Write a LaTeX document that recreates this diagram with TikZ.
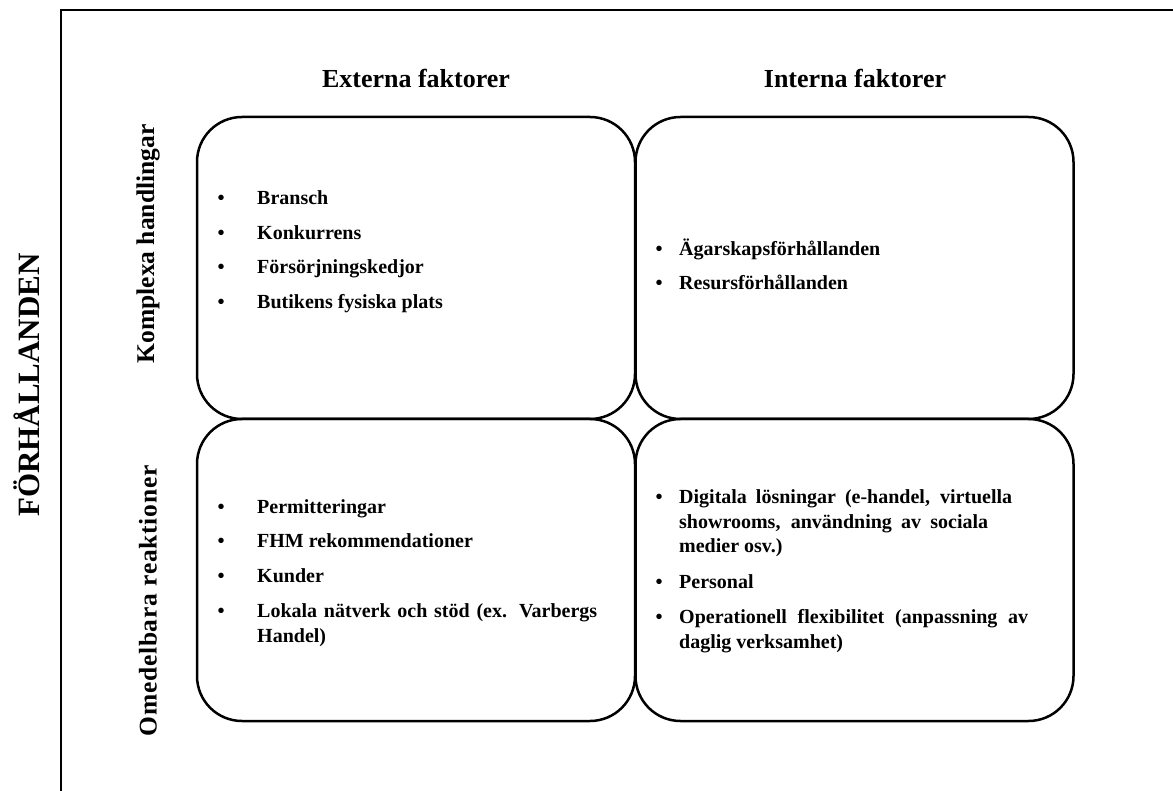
\documentclass[tikz,border=0pt]{standalone}
\usepackage{fontspec}
\setmainfont{Liberation Serif}
\begin{document}
\begin{tikzpicture}[x=1pt,y=-1pt,
  quad/.style={draw, line width=2.5pt, rounded corners=45pt,
    minimum width=438pt, minimum height=302pt, inner sep=0pt},
  head/.style={font=\bfseries\fontsize{26}{30}\selectfont, anchor=base, inner sep=0pt},
  rowlab/.style={font=\bfseries\fontsize{25.5}{30}\selectfont, rotate=90, inner sep=0pt},
  mainlab/.style={font=\bfseries\fontsize{31}{34}\selectfont, rotate=90, inner sep=0pt},
  dot/.style={font=\bfseries\fontsize{20}{25}\selectfont, anchor=base, inner sep=0pt},
  entry/.style={font=\bfseries\fontsize{20}{25}\selectfont, anchor=base west, inner sep=0pt}
]
% page area
\useasboundingbox (0,0) rectangle (1173,791);

% outer frame (left and top edges in view)
\coordinate (fbl) at (61,791);
\coordinate (ftl) at (61,10);
\coordinate (ftr) at (1173,10);
\draw[line width=2.5pt] (fbl) -- (ftl) -- (ftr);

% the four quadrants
\node[quad] (tl) at (416,268) {};
\node[quad] (tr) at (854.5,268) {};
\node[quad] (bl) at (416,570) {};
\node[quad] (br) at (854.5,570) {};

% column headings
\node[head] (hext) at (416,88) {Externa faktorer};
\node[head] (hint) at (855,88) {Interna faktorer};

% row headings
\node[rowlab] (rkom) at (148,244) {Komplexa handlingar};
\node[rowlab] (rome) at (148,601) {\addfontfeature{LetterSpace=3}Omedelbara reaktioner};
\node[mainlab] (rfor) at (27,385) {FÖRHÅLLANDEN};

% external / complex
\node[dot] (b11) at (221,205) {•};
\node[entry] (e11) at (257,205) {Bransch};
\node[dot] (b12) at (221,239.5) {•};
\node[entry] (e12) at (257,239.5) {Konkurrens};
\node[dot] (b13) at (221,274) {•};
\node[entry] (e13) at (257,274) {Försörjningskedjor};
\node[dot] (b14) at (221,308.5) {•};
\node[entry] (e14) at (257,308.5) {Butikens fysiska plats};

% internal / complex
\node[dot] (b21) at (659,256) {•};
\node[entry] (e21) at (679,256) {Ägarskapsförhållanden};
\node[dot] (b22) at (659,290) {•};
\node[entry] (e22) at (679,290) {Resursförhållanden};

% external / immediate
\node[dot] (b31) at (221,513) {•};
\node[entry] (e31) at (257,513) {Permitteringar};
\node[dot] (b32) at (221,547) {•};
\node[entry] (e32) at (257,547) {FHM rekommendationer};
\node[dot] (b33) at (221,582) {•};
\node[entry] (e33) at (257,582) {Kunder};
\node[dot] (b34) at (221,617) {•};
\node[entry] (e34) at (257,617) {\parbox[t]{360pt}{\raggedright
  \makebox[340pt][s]{Lokala nätverk och stöd (ex. Varbergs}\\Handel)}};

% internal / immediate
\node[dot] (b41) at (659,503) {•};
\node[entry] (e41) at (679,503) {\parbox[t]{370pt}{\raggedright
  \makebox[333pt][s]{Digitala lösningar (e-handel, virtuella}\\
  \makebox[309pt][s]{showrooms, användning av sociala}\\medier osv.)}};
\node[dot] (b42) at (659,588) {•};
\node[entry] (e42) at (679,588) {Personal};
\node[dot] (b43) at (659,623) {•};
\node[entry] (e43) at (679,623) {\parbox[t]{370pt}{\raggedright
  \makebox[349pt][s]{Operationell flexibilitet (anpassning av}\\daglig verksamhet)}};
\end{tikzpicture}
\end{document}
